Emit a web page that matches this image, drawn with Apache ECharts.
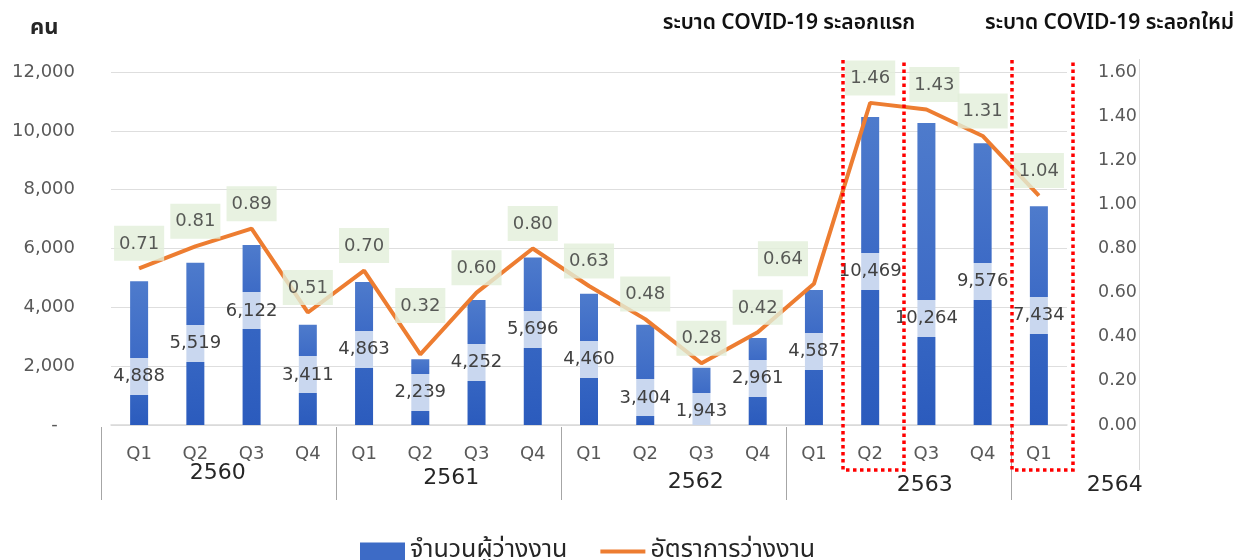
<!DOCTYPE html>
<html>
<head>
<meta charset="utf-8">
<script src="https://cdn.jsdelivr.net/npm/echarts@6.0.0/dist/echarts.min.js"></script>
<style>
  html, body { margin: 0; padding: 0; background: #fff; }
  #main { width: 1243px; height: 560px; }
</style>
</head>
<body>
<div id="main"></div>
<script>
// ข้อมูลรายไตรมาส
const quarters = ['Q1', 'Q2', 'Q3', 'Q4', 'Q1', 'Q2', 'Q3', 'Q4', 'Q1', 'Q2', 'Q3', 'Q4', 'Q1', 'Q2', 'Q3', 'Q4', 'Q1']
const years = ['2560', '2561', '2562', '2563', '2564']
const quartersPerYear = [4, 4, 4, 4, 1]
const unemployed = [4888, 5519, 6122, 3411, 4863, 2239, 4252, 5696, 4460, 3404, 1943, 2961, 4587, 10469, 10264, 9576, 7434]
const unemploymentRate = [0.71, 0.81, 0.89, 0.51, 0.70, 0.32, 0.60, 0.80, 0.63, 0.48, 0.28, 0.42, 0.64, 1.46, 1.43, 1.31, 1.04]
const seriesNames = ['จำนวนผู้ว่างงาน', 'อัตราการว่างงาน']
const leftAxis = { min: 0, max: 12000, interval: 2000 }
const rightAxis = { min: 0, max: 1.6, interval: 0.2 }
const waveTitles = ['ระบาด COVID-19 ระลอกแรก', 'ระบาด COVID-19 ระลอกใหม่']
const waveQuarterIndex = [13, 16]

// layout tweaks (pixel nudges)
const barLabelShift = [23, 0, -24, 0, -4, 0, 0, -12, 0, 23, 15, -3, -6, 0, 44, -3, 0]
const rateLabelShift = { 5: [0, -24], 12: [-31, 0], 14: [8, 0] }
const yearLabelAt = [1.4, 5.55, 9.9, 13.97, 17.35]
const yearLabelY = [473, 478, 482, 485, 485]

const FONT = '"DejaVu Sans", Verdana, sans-serif'
const THAI = '"Noto Sans Thai", "Noto Sans Thai UI", Tahoma, "Noto Sans", sans-serif'
const grid = { left: 111, right: 176, top: 72, bottom: 135 }
const plotHeight = 560 - grid.top - grid.bottom

// แถบสีอ่อนตรงป้ายตัวเลขของแท่ง
function barColor (value, shift) {
  const px = value / leftAxis.max * plotHeight
  const c = (px / 2 + shift) / px
  const h = 18.5 / px
  const a = Math.max(0, c - h)
  const b = Math.min(1, c + h)
  return new echarts.graphic.LinearGradient(0, 0, 0, 1, [
    { offset: 0, color: '#4e7bcc' },
    { offset: a, color: '#3d6bc6' },
    { offset: a, color: '#c9d7ef' },
    { offset: b, color: '#c9d7ef' },
    { offset: b, color: '#3565c2' },
    { offset: 1, color: '#2b5bbd' }
  ])
}

const chart = echarts.init(document.getElementById('main'))

const option = {
  animation: false,
  grid: grid,
  legend: {
    top: 534,
    left: 355,
    itemWidth: 45,
    itemHeight: 18,
    itemGap: 33,
    textStyle: { fontFamily: THAI, fontSize: 25, color: '#262626' },
    data: [
      { name: seriesNames[0], icon: 'rect' },
      { name: seriesNames[1], icon: 'path://M0,0H45V4H0Z' }
    ]
  },
  xAxis: {
    type: 'category',
    data: quarters,
    axisTick: { show: false },
    axisLine: { lineStyle: { color: '#d9d9d9', width: 1.5 } },
    axisLabel: { color: '#595959', fontSize: 18, fontFamily: FONT, margin: 20 }
  },
  yAxis: [
    {
      type: 'value',
      min: leftAxis.min,
      max: leftAxis.max,
      interval: leftAxis.interval,
      axisLine: { show: false },
      axisTick: { show: false },
      splitLine: { lineStyle: { color: '#dedede' } },
      axisLabel: {
        color: '#595959',
        fontSize: 18,
        fontFamily: FONT,
        margin: 36,
        formatter: v => v === 0 ? '-   ' : v.toLocaleString('en-US')
      }
    },
    {
      type: 'value',
      position: 'right',
      offset: 72,
      min: rightAxis.min,
      max: rightAxis.max,
      interval: rightAxis.interval,
      axisLine: { show: false },
      axisTick: { show: false },
      splitLine: { show: false },
      axisLabel: {
        inside: true,
        margin: 2,
        color: '#595959',
        fontSize: 17.5,
        fontFamily: FONT,
        formatter: v => v.toFixed(2)
      }
    }
  ],
  series: [
    {
      name: seriesNames[0],
      type: 'bar',
      barWidth: 18,
      itemStyle: { color: '#3d6bc6' },
      data: unemployed.map((v, i) => ({
        value: v,
        itemStyle: { color: barColor(v, barLabelShift[i]) },
        label: { offset: [0, barLabelShift[i]] }
      })),
      label: {
        show: true,
        position: 'inside',
        color: '#404040',
        fontSize: 18,
        fontFamily: FONT,
        formatter: p => p.value.toLocaleString('en-US')
      }
    },
    {
      name: seriesNames[1],
      type: 'line',
      yAxisIndex: 1,
      symbol: 'none',
      z: 5,
      lineStyle: { color: '#ed7d31', width: 4 },
      itemStyle: { color: '#ed7d31' },
      data: unemploymentRate
    },
    {
      // ป้ายค่าอัตราการว่างงาน
      name: 'rate-labels',
      type: 'scatter',
      yAxisIndex: 1,
      symbolSize: 1,
      z: 6,
      itemStyle: { color: '#ed7d31' },
      data: unemploymentRate.map((v, i) => ({
        value: v,
        label: rateLabelShift[i] ? { offset: rateLabelShift[i] } : {}
      })),
      label: {
        show: true,
        position: 'top',
        distance: 7,
        color: '#333333',
        fontSize: 18,
        fontFamily: FONT,
        backgroundColor: '#e2efda',
        padding: [9, 5, 8, 5],
        formatter: p => p.value.toFixed(2)
      }
    }
  ]
}

chart.setOption(option)

// ป้ายปี เส้นแบ่งปี กรอบเส้นประ และหัวข้อ
function drawExtras () {
  const px = i => chart.convertToPixel({ xAxisIndex: 0 }, i)
  const band = px(1) - px(0)
  const at = k => px(0) + k * band
  const bottomY = chart.convertToPixel({ yAxisIndex: 0 }, 0)
  const rightX = Math.round(at(quarters.length - 0.5)) + 72.5
  const els = []

  els.push({
    type: 'line',
    shape: { x1: rightX, y1: 59, x2: rightX, y2: 470 },
    style: { stroke: '#d9d9d9', lineWidth: 1 }
  })

  let start = 0
  quartersPerYear.forEach((n, y) => {
    const x = Math.round(at(start) - band / 2) + 0.5
    els.push({
      type: 'line',
      shape: { x1: y === 0 ? x - 10 : x, y1: bottomY + 2, x2: y === 0 ? x - 10 : x, y2: bottomY + 75 },
      style: { stroke: '#a6a6a6', lineWidth: 1 }
    })
    els.push({
      type: 'text',
      x: at(yearLabelAt[y]),
      y: yearLabelY[y],
      style: { text: years[y], fill: '#262626', font: '22px ' + FONT, align: 'center', verticalAlign: 'middle' }
    })
    start += n
  })

  waveQuarterIndex.forEach(i => {
    const l = Math.round(at(i) - 27)
    const r = Math.round(at(i) + 34)
    els.push({
      type: 'polyline',
      z: 10,
      shape: { points: [[l, 60], [l, 470], [r, 470], [r, 60]] },
      style: { stroke: '#ff0000', lineWidth: 3.5, lineDash: [3.5, 3.5], fill: null }
    })
  })

  els.push({
    type: 'text', x: 30, y: 30,
    style: { text: 'คน', fill: '#262626', font: 'bold 22px ' + THAI, verticalAlign: 'middle' }
  })
  els.push({
    type: 'text', x: 789, y: 25,
    style: { text: waveTitles[0], fill: '#111', font: '600 21px ' + THAI, align: 'center', verticalAlign: 'middle' }
  })
  els.push({
    type: 'text', x: 985, y: 25,
    style: { text: waveTitles[1], fill: '#111', font: '600 21px ' + THAI, verticalAlign: 'middle' }
  })

  chart.setOption({ graphic: els })
}

drawExtras()
</script>
</body>
</html>
